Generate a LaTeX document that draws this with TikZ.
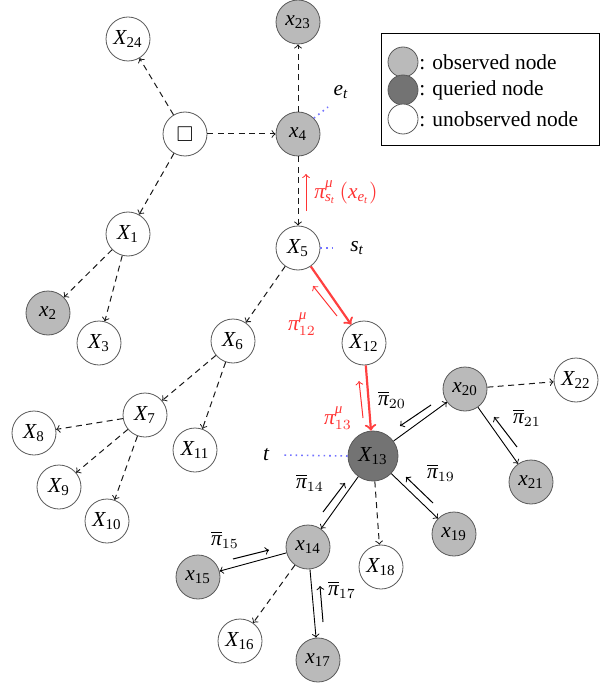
\documentclass[tikz,border=0pt]{standalone}
\usepackage{amsmath,amssymb}
\usepackage{fontspec}
\setmainfont{Liberation Serif}
\usetikzlibrary{calc}
\newcommand{\vv}[2]{$\text{\itshape #1}_{\text{#2}}$}
\newcommand{\ii}[1]{\text{\itshape #1}}
\newcommand{\ppi}{\text{\itshape π}}
\newcommand{\mmu}{\text{\itshape μ}}
\begin{document}
\begin{tikzpicture}[x=0.5pt,y=-0.5pt,font=\fontsize{10.7}{13}\selectfont,
  vnode/.style={circle,draw=black!65,minimum size=22pt,inner sep=0.5pt,fill=white},
  obs/.style={vnode,fill=black!27},
  qry/.style={vnode,fill=black!55,minimum size=25pt},
  dep/.style={dash pattern=on 3pt off 2.2pt,->,black!90,line width=0.5pt},
  sol/.style={->,black,line width=0.45pt},
  redarr/.style={->,draw=red!75,line width=1.1pt},
  msgr/.style={->,draw=red!80,line width=0.5pt},
  msgb/.style={->,black,line width=0.5pt},
  dotb/.style={dotted,draw=blue!55,line width=0.8pt},
  lbl/.style={inner sep=0pt},
  lgc/.style={circle,draw=black!65,minimum size=15pt,inner sep=0pt}]
\path[use as bounding box] (0,0) rectangle (606,684);

% nodes
\node[vnode] (X24) at (128,39) {\vv{X}{24}};
\node[obs] (x23) at (298,22) {\vv{x}{23}};
\node[vnode] (sq) at (185,134) {$\square$};
\node[obs] (x4) at (298,134) {\vv{x}{4}};
\node[vnode] (X1) at (128,234) {\vv{X}{1}};
\node[obs] (x2) at (48,313) {\vv{x}{2}};
\node[vnode] (X3) at (99,343) {\vv{X}{3}};
\node[vnode] (X5) at (298,248) {\vv{X}{5}};
\node[vnode] (X6) at (233,341) {\vv{X}{6}};
\node[vnode] (X12) at (364,343) {\vv{X}{12}};
\node[vnode] (X7) at (145,415) {\vv{X}{7}};
\node[vnode] (X8) at (34,433) {\vv{X}{8}};
\node[vnode] (X9) at (59,487) {\vv{X}{9}};
\node[vnode] (X10) at (107,521) {\vv{X}{10}};
\node[vnode] (X11) at (195,450) {\vv{X}{11}};
\node[qry] (X13) at (373,456) {\vv{X}{13}};
\node[obs] (x20) at (465,389) {\vv{x}{20}};
\node[vnode] (X22) at (576,380) {\vv{X}{22}};
\node[obs] (x21) at (531,482) {\vv{x}{21}};
\node[obs] (x19) at (454,534) {\vv{x}{19}};
\node[vnode] (X18) at (381,567) {\vv{X}{18}};
\node[obs] (x14) at (308,547) {\vv{x}{14}};
\node[obs] (x15) at (198,577) {\vv{x}{15}};
\node[vnode] (X16) at (240,641) {\vv{X}{16}};
\node[obs] (x17) at (318,660) {\vv{x}{17}};

% annotation labels
\node[lbl] (et) at (341,92) {$\ii{e}_{\ii{t}}$};
\node[lbl] (st) at (357,248) {$\ii{s}_{\ii{t}}$};
\node[lbl] (tl) at (266,455) {$\ii{t}$};
\coordinate (etstart) at (328,107);
\draw[dotb] (x4.45) -- (etstart);
\draw[dotb] (X5.east) -- ($(st.west)+(-14,0)$);
\draw[dotb] (X13.west) -- ($(tl.east)+(12,0)$);

% dashed dependency edges
\draw[dep] (sq) -- (X24);
\draw[dep] (sq) -- (x4);
\draw[dep] (sq) -- (X1);
\draw[dep] (x4) -- (x23);
\draw[dep] (x4) -- (X5);
\draw[dep] (X1) -- (x2);
\draw[dep] (X1) -- (X3);
\draw[dep] (X5) -- (X6);
\draw[dep] (X6) -- (X7);
\draw[dep] (X6) -- (X11);
\draw[dep] (X7) -- (X8);
\draw[dep] (X7) -- (X9);
\draw[dep] (X7) -- (X10);
\draw[dep] (x20) -- (X22);
\draw[dep] (X13) -- (X18);
\draw[dep] (x14) -- (X16);

% solid edges
\draw[sol] (X13) -- (x20);
\draw[sol] (x20) -- (x21);
\draw[sol] (X13) -- (x19);
\draw[sol] (X13) -- (x14);
\draw[sol] (x14) -- (x15);
\draw[sol] (x14) -- (x17);

% red query path
\draw[redarr] (X5) -- (X12);
\draw[redarr] (X12) -- (X13);

% messages
\draw[msgr] (306,211) -- (306,174);
\node[lbl,text=red!80,anchor=west] (m0) at (314,192) {$\ppi^{\mmu}_{\ii{s}_{\ii{t}}}\,(\ii{x}_{\ii{e}_{\ii{t}}})$};
\draw[msgr] (337,316) -- (313,286);
\node[lbl,text=red!80] (m12) at (302,324) {$\ppi^{\mmu}_{12}$};
\draw[msgr] (363,418) -- (359,381);
\node[lbl,text=red!80] (m13) at (338,418) {$\ppi^{\mmu}_{13}$};

\draw[msgb] (431,405) -- (400,426);
\node[lbl] (m20) at (392,400) {$\overline{\ppi}_{20}$};
\draw[msgb] (517,447) -- (494,417);
\node[lbl] (m21) at (527,418) {$\overline{\ppi}_{21}$};
\draw[msgb] (433,503) -- (406,477);
\node[lbl] (m19) at (441,473) {$\overline{\ppi}_{19}$};
\draw[msgb] (323,512) -- (345,483);
\node[lbl] (m14) at (310,483) {$\overline{\ppi}_{14}$};
\draw[msgb] (233,559) -- (269,550);
\node[lbl] (m15) at (225,540) {$\overline{\ppi}_{15}$};
\draw[msgb] (323,622) -- (320,586);
\node[lbl] (m17) at (342,590) {$\overline{\ppi}_{17}$};

% legend
\node[draw=black,line width=0.5pt,minimum width=109pt,minimum height=56pt,inner sep=0pt] (leg) at (490,90) {};
\node[lgc,fill=black!27] (lg1) at (403,62) {};
\node[lgc,fill=black!55] (lg2) at (403,90) {};
\node[lgc,fill=white] (lg3) at (403,119) {};
\node[anchor=west,inner sep=0pt] (lt1) at (419,62) {: observed node};
\node[anchor=west,inner sep=0pt] (lt2) at (419,90) {: queried node};
\node[anchor=west,inner sep=0pt] (lt3) at (419,119) {: unobserved node};
\end{tikzpicture}
\end{document}
